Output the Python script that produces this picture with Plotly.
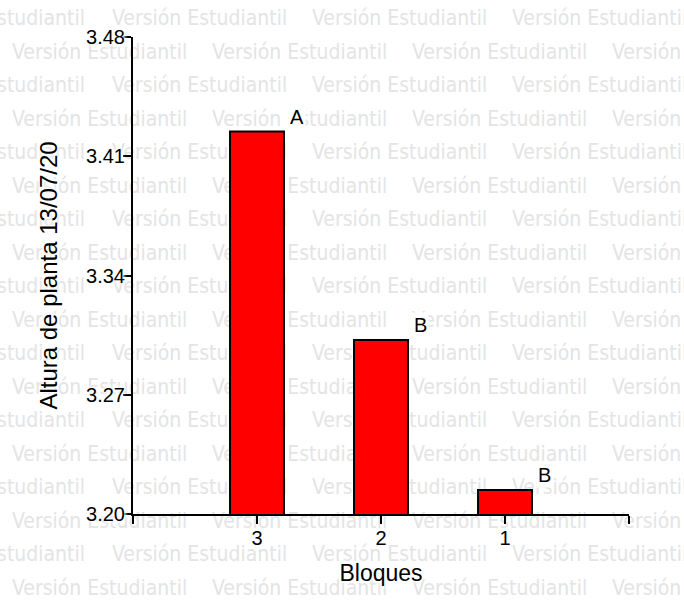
import plotly.graph_objects as go

# Data: plant height by block
bloques = ["3", "2", "1"]
altura = [3.4245, 3.3022, 3.2141]
letras = ["A", "B", "B"]

y_ticks = [3.20, 3.27, 3.34, 3.41, 3.48]
y_range = [3.20, 3.48]

W, H = 684, 610
# plot area of the bar chart, in page pixels
PX0, PX1 = 133, 629
PY0, PY1 = 37, 514

fig = go.Figure()

# Background "Versión Estudiantil" watermark on a full-page subplot (pixel coordinates)
WM_TEXT = "Versión Estudiantil"
WM_WIDTH = 173  # rendered width of one watermark string
wm_x, wm_y, wm_pos = [], [], []
for k in range(18):
    yk = 20 + 33.5 * k
    start = 12 if k % 2 else -88
    x = start
    while x < W:
        if x < 0:
            # partially visible string: anchor on its right end
            wm_x.append(x + WM_WIDTH)
            wm_pos.append("middle left")
        else:
            wm_x.append(x)
            wm_pos.append("middle right")
        wm_y.append(yk)
        x += 200
fig.add_trace(go.Scatter(
    x=wm_x, y=wm_y, mode="text", text=[WM_TEXT] * len(wm_x),
    textposition=wm_pos, cliponaxis=False, hoverinfo="skip",
    textfont=dict(family="DejaVu Sans Condensed", size=21, color="#e4e4e4"),
    xaxis="x", yaxis="y", showlegend=False,
))

pos = list(range(len(bloques)))
fig.add_trace(go.Bar(
    x=pos, y=altura, base=0, width=0.435,
    marker=dict(color="#ff0000", line=dict(color="black", width=2)),
    xaxis="x2", yaxis="y2", showlegend=False,
))

for p, v, t in zip(pos, altura, letras):
    fig.add_annotation(
        x=p + 0.32, y=v, xref="x2", yref="y2", text=t, showarrow=False,
        yanchor="middle", yshift=15, bgcolor="white",
        font=dict(family="Liberation Sans", size=20, color="black"),
    )

halo = "0 0 2px #fff, 0 0 3px #fff, 0 0 4px #fff, 0 0 5px #fff"
fig.update_layout(
    width=W, height=H,
    margin=dict(l=0, r=0, t=0, b=0, autoexpand=False),
    paper_bgcolor="white", plot_bgcolor="rgba(0,0,0,0)",
    xaxis=dict(domain=[0, 1], range=[0, W], visible=False, fixedrange=True),
    yaxis=dict(domain=[0, 1], range=[H, 0], visible=False, fixedrange=True),
    xaxis2=dict(
        domain=[PX0 / W, PX1 / W], anchor="y2", range=[-1, 3],
        tickmode="array", tickvals=[-1, 0, 1, 2, 3],
        ticktext=[""] + bloques + [""],
        showline=True, linecolor="black", linewidth=2,
        ticks="outside", ticklen=8, tickwidth=2, tickcolor="black",
        ticklabelstandoff=-3,
        showgrid=False, zeroline=False,
        tickfont=dict(family="Liberation Sans", size=20, color="black", shadow=halo),
        title=dict(text="Bloques", standoff=17,
                   font=dict(family="Liberation Sans", size=23, color="black", shadow=halo)),
    ),
    yaxis2=dict(
        domain=[1 - PY1 / H, 1 - PY0 / H], anchor="x2", range=y_range,
        tickmode="array", tickvals=y_ticks, tickformat=".2f",
        showline=True, linecolor="black", linewidth=2,
        ticks="outside", ticklen=8, tickwidth=2, tickcolor="black",
        ticklabelstandoff=-6,
        showgrid=False, zeroline=False,
        tickfont=dict(family="Liberation Sans", size=20, color="black", shadow=halo),
        title=dict(text="Altura de planta 13/07/20", standoff=22,
                   font=dict(family="Liberation Sans", size=24, color="black", shadow=halo)),
    ),
)

fig.write_html("out.html")
